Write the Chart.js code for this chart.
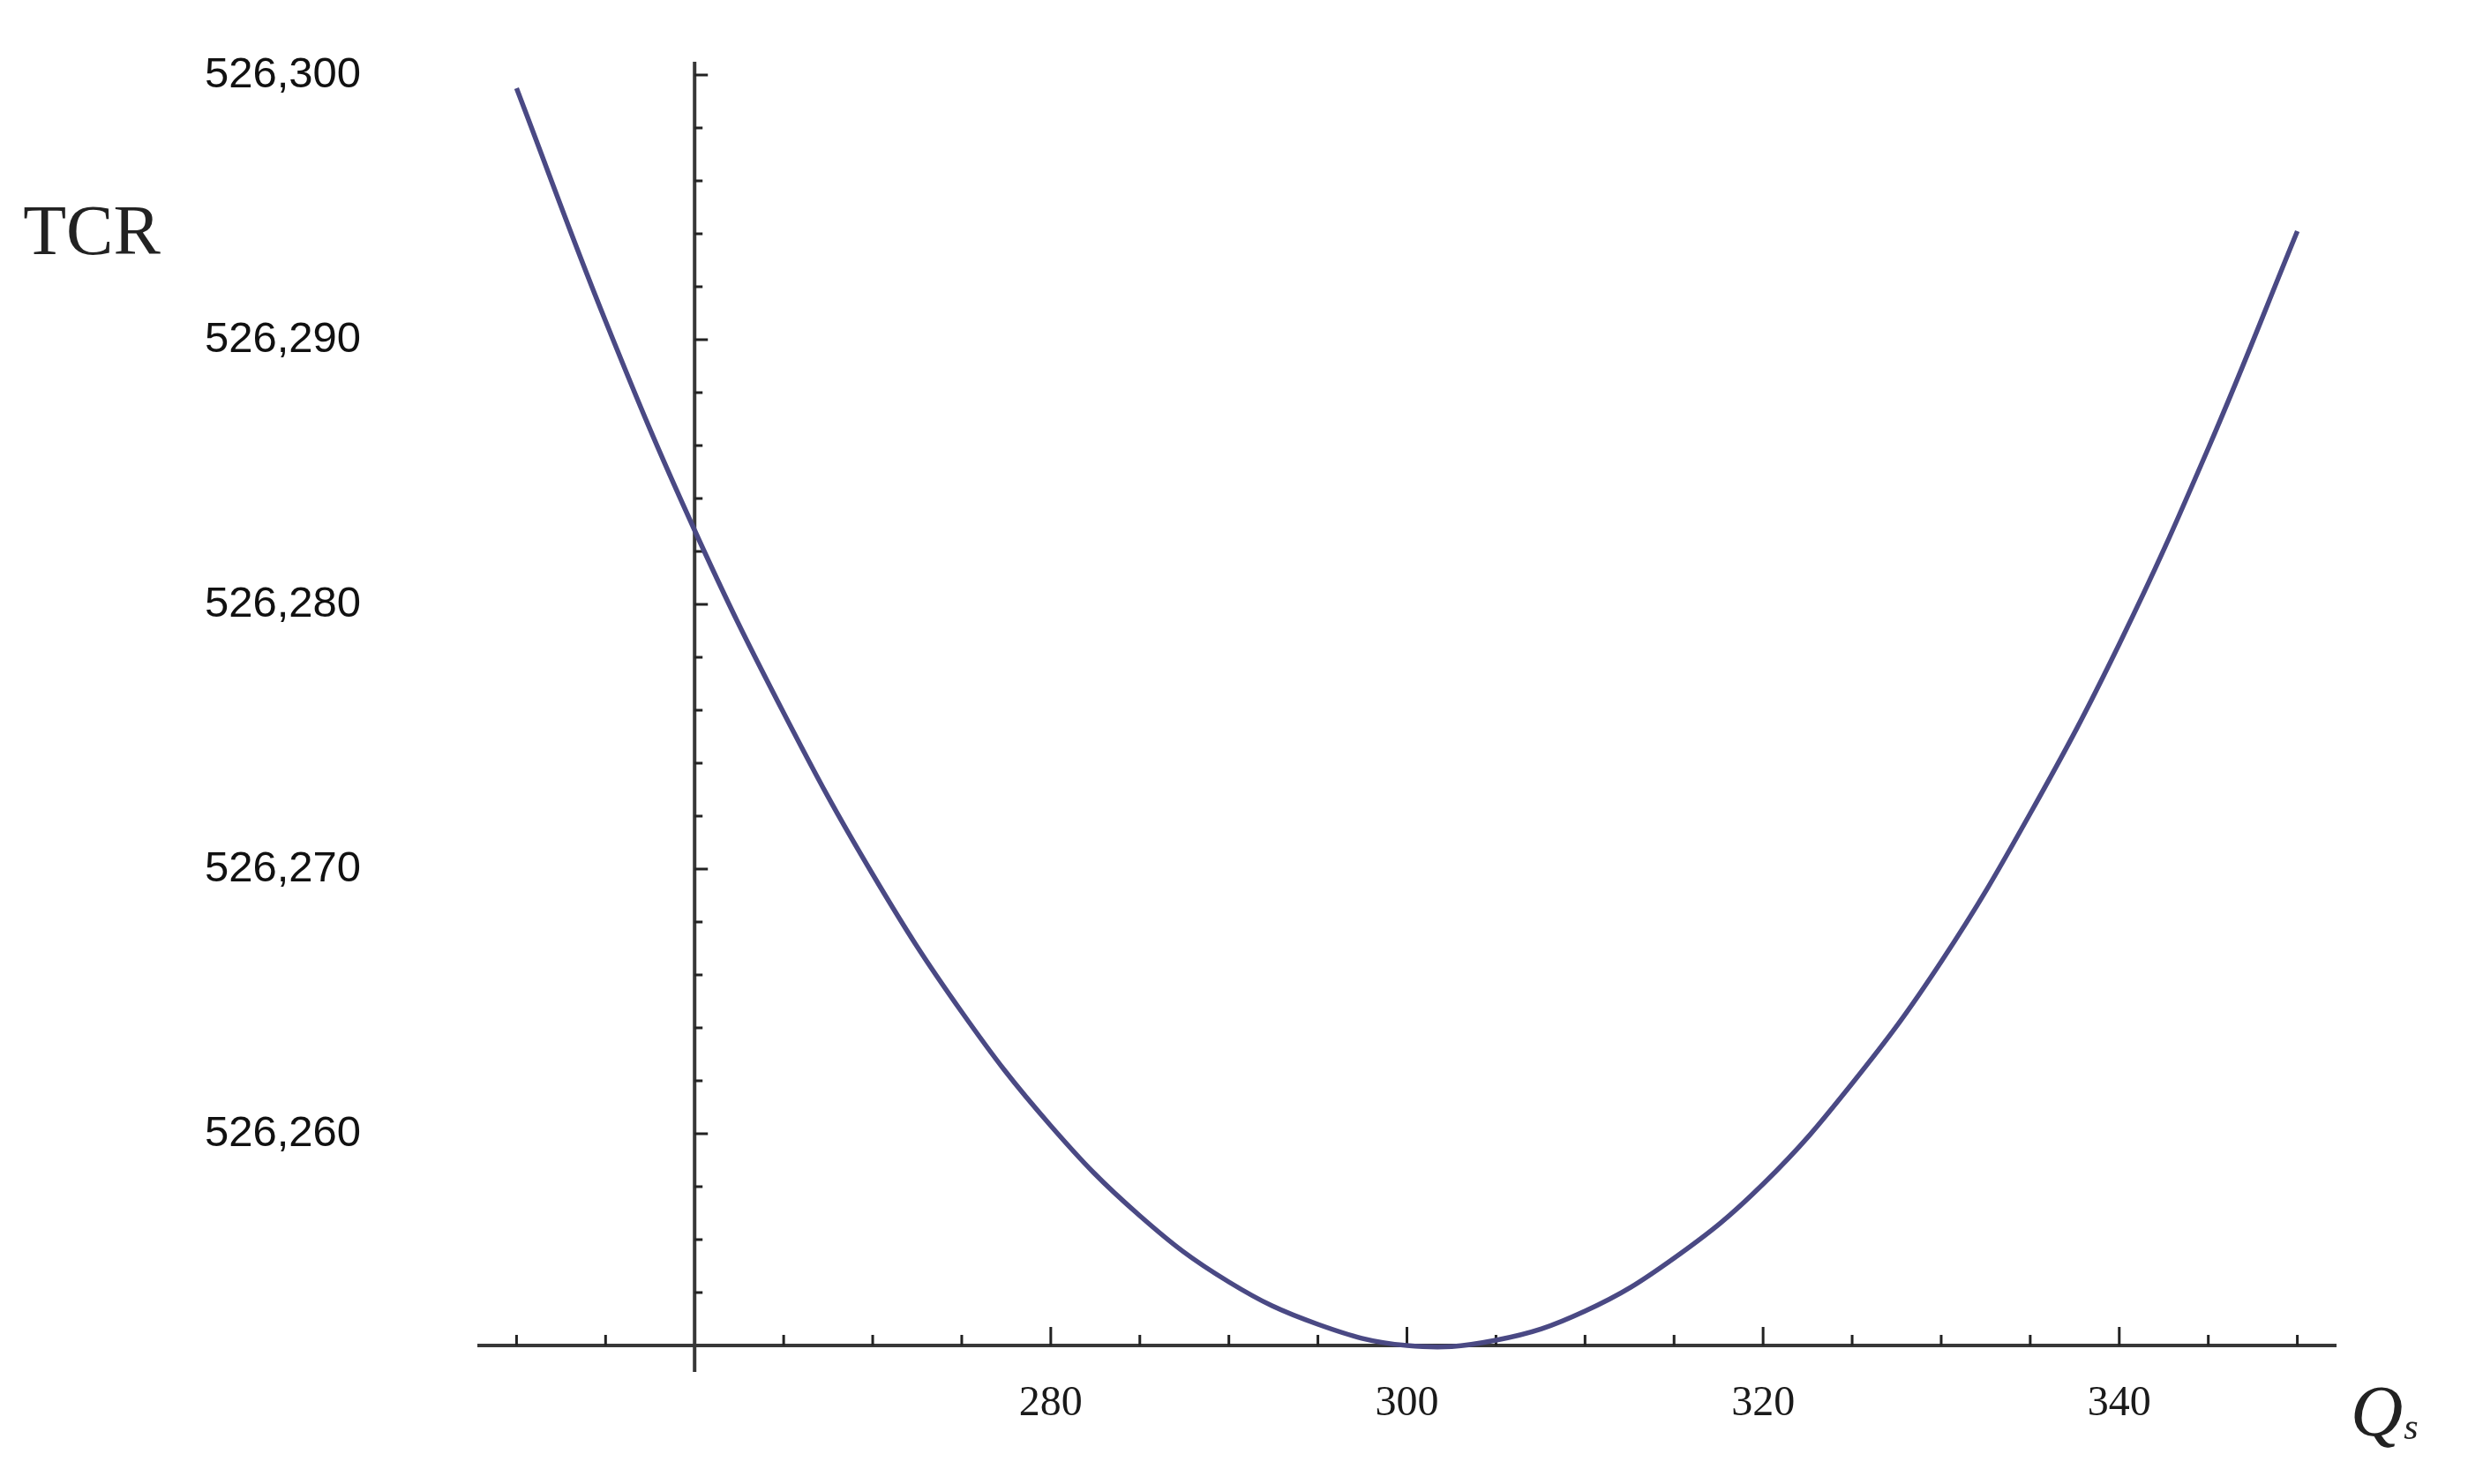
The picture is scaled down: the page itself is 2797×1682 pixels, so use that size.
<!DOCTYPE html>
<html>
<head>
<meta charset="utf-8">
<title>TCR vs Qs</title>
<script src="https://cdn.jsdelivr.net/npm/chart.js@4.4.1/dist/chart.umd.min.js"></script>
<style>
  html, body { margin: 0; padding: 0; background: #ffffff; }
  #chart { display: block; }
</style>
</head>
<body>
<canvas id="chart" width="2797" height="1682"></canvas>
<script>
/* ---- data ---- */
const qValues = [250, 255, 260, 265, 270, 275, 280, 285, 290, 295, 300,
                 305, 310, 315, 320, 325, 330, 335, 340, 345, 350];
const tcrValues = [526299.5, 526290.7, 526282.8, 526275.9, 526269.8, 526264.6, 526260.3,
                   526256.9, 526254.4, 526252.8, 526252.0, 526252.2, 526253.3, 526255.3,
                   526258.1, 526261.9, 526266.5, 526272.1, 526278.5, 526285.9, 526294.1];

const xTickLabels = [280, 300, 320, 340];
const yTickLabels = [526260, 526270, 526280, 526290, 526300];

// where the two axes cross, and the spacing of the small tick marks
const xCross = 260;
const yCross = 526252;
const xMarkStep = 5;
const yMarkStep = 2;

/* ---- axes drawn through the middle of the plot ---- */
const crossedAxes = {
  id: "crossedAxes",
  beforeDatasetsDraw(chart) {
    const { ctx, scales: { x, y } } = chart;
    const x0 = x.getPixelForValue(xCross);
    const y0 = y.getPixelForValue(yCross);
    ctx.save();
    ctx.strokeStyle = "#383838";
    ctx.lineWidth = 4;
    ctx.beginPath();
    ctx.moveTo(x.left, y0);
    ctx.lineTo(x.right, y0);
    ctx.moveTo(x0, y.top);
    ctx.lineTo(x0, y.bottom);
    ctx.stroke();

    ctx.strokeStyle = "#222222";
    ctx.lineWidth = 3;
    ctx.beginPath();
    for (let q = 250; q <= 350; q += xMarkStep) {
      if (q === xCross) continue;
      const px = x.getPixelForValue(q);
      const len = q % 20 === 0 ? 21 : 12;
      ctx.moveTo(px, y0);
      ctx.lineTo(px, y0 - len);
    }
    for (let v = yCross + yMarkStep; v <= 526300; v += yMarkStep) {
      const py = y.getPixelForValue(v);
      const len = v % 10 === 0 ? 15 : 9;
      ctx.moveTo(x0, py);
      ctx.lineTo(x0 + len, py);
    }
    ctx.stroke();
    ctx.restore();
  },
  afterDraw(chart) {
    const ctx = chart.ctx;
    ctx.save();
    ctx.fillStyle = "#222222";
    ctx.textBaseline = "alphabetic";
    // y axis name, upright at the top left
    ctx.font = '80px "Liberation Serif", "Times New Roman", serif';
    ctx.textAlign = "center";
    ctx.fillText("TCR", 104, 288);
    // x axis name, Q with subscript s
    ctx.textAlign = "left";
    ctx.font = 'italic 82px "Liberation Serif", "Times New Roman", serif';
    ctx.fillText("Q", 2664, 1627);
    const qw = ctx.measureText("Q").width;
    ctx.font = 'italic 42px "Liberation Serif", "Times New Roman", serif';
    ctx.fillText("s", 2664 + qw + 1, 1631);
    ctx.restore();
  }
};

new Chart(document.getElementById("chart"), {
  type: "line",
  data: {
    datasets: [{
      label: "TCR",
      data: qValues.map((q, i) => ({ x: q, y: tcrValues[i] })),
      borderColor: "#4a4984",
      borderWidth: 5.5,
      pointRadius: 0,
      fill: false,
      tension: 0.4
    }]
  },
  options: {
    responsive: false,
    animation: false,
    devicePixelRatio: 1,
    layout: { padding: { top: 70, right: 149, left: 232, bottom: 0 } },
    plugins: {
      legend: { display: false },
      tooltip: { enabled: false }
    },
    scales: {
      x: {
        type: "linear",
        min: 247.8,
        max: 352.2,
        grid: { display: false },
        border: { display: false },
        afterBuildTicks: (s) => { s.ticks = xTickLabels.map(v => ({ value: v })); },
        afterFit: (s) => { s.height = 127; },
        ticks: {
          padding: 0,
          maxRotation: 0,
          autoSkip: false,
          color: "#1a1a1a",
          font: { family: '"Liberation Serif", "Times New Roman", serif', size: 48 }
        }
      },
      y: {
        type: "linear",
        min: 526251,
        max: 526300.5,
        grid: { display: false },
        border: { display: false },
        afterBuildTicks: (s) => { s.ticks = yTickLabels.map(v => ({ value: v })); },
        afterFit: (s) => { s.width = 309; },
        ticks: {
          padding: 0,
          crossAlign: "far",
          color: "#111111",
          font: { family: '"Liberation Sans", Arial, sans-serif', size: 49 },
          callback: (v) => v.toLocaleString("en-US")
        }
      }
    }
  },
  plugins: [crossedAxes]
});
</script>
</body>
</html>
